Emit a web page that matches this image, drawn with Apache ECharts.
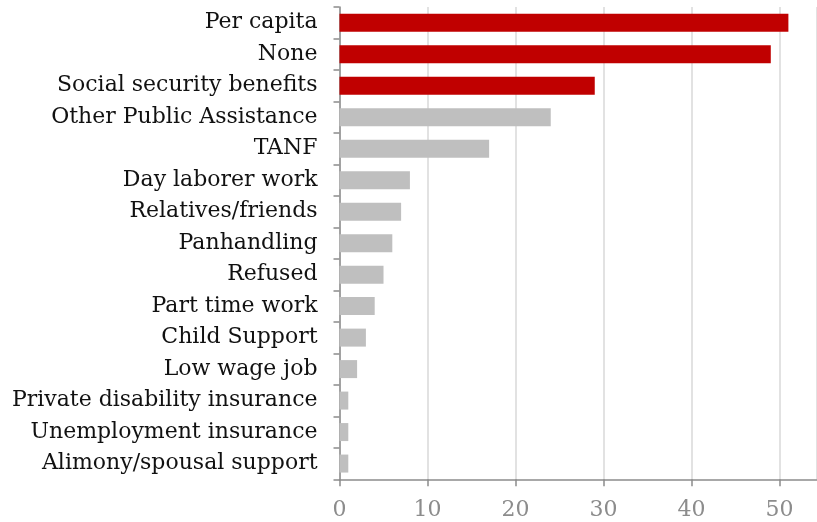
<!DOCTYPE html>
<html><head><meta charset="utf-8">
<script src="https://cdn.jsdelivr.net/npm/echarts@6/dist/echarts.min.js"></script>
<style>html,body{margin:0;padding:0;background:#fff}#c{width:817px;height:522px}</style>
</head><body><div id="c"></div>
<script>
const categories = ["Per capita","None","Social security benefits","Other Public Assistance","TANF","Day laborer work","Relatives/friends","Panhandling","Refused","Part time work","Child Support","Low wage job","Private disability insurance","Unemployment insurance","Alimony/spousal support"];
const values = [51,49,29,24,17,8,7,6,5,4,3,2,1,1,1];
const highlighted = ["Per capita","None","Social security benefits"];
const xTicks = [0,10,20,30,40,50];

const FONT = "DejaVu Serif";
const chart = echarts.init(document.getElementById('c'));
chart.setOption({
  animation:false,
  grid:{left:339.5,right:0,top:7,bottom:42.7,containLabel:false},
  xAxis:{type:'value',min:0,max:54.25,interval:10,
    axisLine:{show:true,lineStyle:{color:'#8c8c8c',width:1.5}},
    axisTick:{show:true,length:7,lineStyle:{color:'#8c8c8c',width:1.5}},
    splitLine:{show:true,lineStyle:{color:'#d9d9d9',width:1.5}},
    axisLabel:{showMaxLabel:false,color:'#8c8c8c',fontFamily:FONT,fontSize:22,margin:20,
      formatter:v=>xTicks.includes(v)?String(v):''}
  },
  yAxis:{type:'category',inverse:true,data:categories,
    axisLine:{show:true,lineStyle:{color:'#8c8c8c',width:1.5}},
    axisTick:{show:true,length:6,lineStyle:{color:'#8c8c8c',width:1.5}},
    axisLabel:{color:'#111',fontFamily:FONT,fontSize:22,margin:22}
  },
  series:[{type:'bar',data:values,barWidth:18,
    itemStyle:{color:p=>highlighted.includes(categories[p.dataIndex])?'#c00000':'#bfbfbf'}}]
});
</script></body></html>
